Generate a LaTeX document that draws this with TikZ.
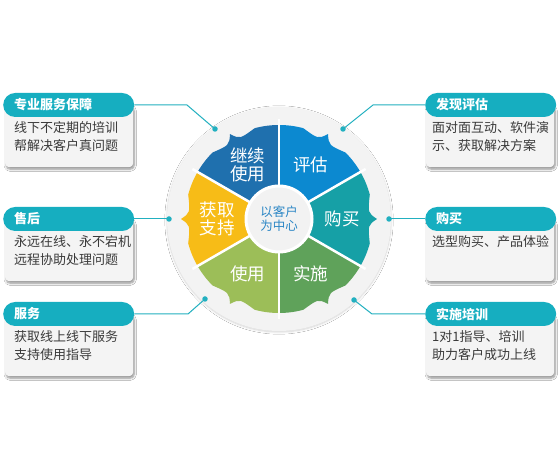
\documentclass[tikz,border=0pt]{standalone}
\usepackage{fontspec}
\setmainfont{Noto Sans CJK SC}
\usetikzlibrary{calc, shadows.blur}
\definecolor{teal}{HTML}{16AEC0}
\definecolor{linkteal}{HTML}{22B0C0}
\definecolor{softgrey}{HTML}{F4F4F4}
\definecolor{ringgrey}{HTML}{F3F3F3}
\definecolor{bodytext}{HTML}{3A3A3A}
\definecolor{hubblue}{HTML}{2B86C5}
\definecolor{segdarkblue}{HTML}{1F70AE}
\definecolor{segblue}{HTML}{0C89D0}
\definecolor{segteal}{HTML}{16A0A6}
\definecolor{seggreen}{HTML}{5FA25A}
\definecolor{seglime}{HTML}{9CBE58}
\definecolor{segyellow}{HTML}{F7BC17}
\tikzset{
  header/.style={
    rectangle, rounded corners=12pt, fill=teal,
    minimum width=131pt, minimum height=24pt,
    text=white, font=\bfseries\fontsize{13}{15}\selectfont,
    anchor=west, inner xsep=11pt, text width=109pt, align=left
  },
  bodybox/.style={
    rectangle, rounded corners=4pt, fill=softgrey,
    minimum width=128pt, minimum height=62pt, anchor=north west,
    blur shadow={shadow xshift=1pt, shadow yshift=-2pt, shadow blur steps=6, shadow opacity=45}
  },
  bodytext/.style={
    anchor=north west, align=left, text=bodytext, inner sep=0pt,
    font=\fontsize{13}{18}\selectfont
  },
  seglabel/.style={text=white, align=center, font=\fontsize{17.5}{18}\selectfont},
  link/.style={draw=linkteal, line width=1pt},
  dot/.style={circle, fill=linkteal, inner sep=0pt, minimum size=5.5pt},
}
% one coloured wedge of the ring: colour, start angle
\newcommand{\ringseg}[2]{%
  \pgfmathsetmacro{\segmid}{#2+30}%
  \pgfmathsetmacro{\sega}{\segmid-15}%
  \pgfmathsetmacro{\segb}{\segmid-4}%
  \pgfmathsetmacro{\segc}{\segmid+4}%
  \pgfmathsetmacro{\segd}{\segmid+15}%
  \pgfmathsetmacro{\sege}{#2+60}%
  \fill[#1] (C) -- ($(C)+(#2:94)$) arc[start angle=#2, end angle=\sega, radius=94]
    .. controls ($(C)+(\segb:89)$) .. ($(C)+(\segmid:98)$)
    .. controls ($(C)+(\segc:89)$) .. ($(C)+(\segd:94)$)
    arc[start angle=\segd, end angle=\sege, radius=94] -- cycle;
}

\begin{document}
\begin{tikzpicture}[x=1pt, y=1pt]
  \useasboundingbox[fill=white] (0,0) rectangle (560,473);
  \coordinate (C) at (279,254);

  % ring
  \fill[ringgrey, blur shadow={shadow xshift=0pt, shadow yshift=-1pt, shadow blur steps=8, shadow opacity=18}]
    (C) circle[radius=112];
  \ringseg{segteal}{-30}
  \ringseg{segblue}{30}
  \ringseg{segdarkblue}{90}
  \ringseg{segyellow}{150}
  \ringseg{seglime}{210}
  \ringseg{seggreen}{270}
  \foreach \a in {30,90,150,210,270,330}
    \draw[white, line width=2.5pt] (C) -- ($(C)+(\a:100)$);
  \node[circle, fill=white!95!black, draw=white, line width=3pt, minimum size=66pt,
        text=hubblue, align=center, font=\fontsize{12.5}{14}\selectfont] (hub) at (C)
    {以客户\\为中心};

  \node[seglabel] (pinggu) at ($(C)+(60:63)$) {评估};
  \node[seglabel] (goumai) at ($(C)+(0:63)$) {购买};
  \node[seglabel] (shishi) at ($(C)+(300:63)$) {实施};
  \node[seglabel] (shiyong) at ($(C)+(240:63)$) {使用};
  \node[seglabel] (zhichi) at ($(C)+(180:62)$) {获取\\支持};
  \node[seglabel] (jixu) at ($(C)+(120:63)$) {继续\\使用};

  % left boxes
  \node[bodybox] (bodyL1) at (5,368) {};
  \node[header] (hdL1) at (3,368) {专业服务保障};
  \node[bodytext] (txtL1) at (14,352) {线下不定期的培训\\帮解决客户真问题};

  \node[bodybox] (bodyL2) at (5,254) {};
  \node[header] (hdL2) at (3,254) {售后};
  \node[bodytext] (txtL2) at (14,238) {永远在线、永不宕机\\远程协助处理问题};

  \node[bodybox] (bodyL3) at (5,159) {};
  \node[header] (hdL3) at (3,159) {服务};
  \node[bodytext] (txtL3) at (14,143) {获取线上线下服务\\支持使用指导};

  % right boxes
  \node[bodybox] (bodyR1) at (426,368) {};
  \node[header] (hdR1) at (425,368) {发现评估};
  \node[bodytext] (txtR1) at (432,352) {面对面互动、软件演\\示、获取解决方案};

  \node[bodybox] (bodyR2) at (426,254) {};
  \node[header] (hdR2) at (425,254) {购买};
  \node[bodytext] (txtR2) at (432,238) {选型购买、产品体验};

  \node[bodybox] (bodyR3) at (426,159) {};
  \node[header] (hdR3) at (425,159) {实施培训};
  \node[bodytext] (txtR3) at (432,143) {1对1指导、培训\\助力客户成功上线};

  % connectors
  \node[dot] (dotL1) at (215,344) {};
  \node[dot] (dotR1) at (343,344) {};
  \node[dot] (dotL2) at (169,254) {};
  \node[dot] (dotR2) at (389,254) {};
  \node[dot] (dotL3) at (205,174) {};
  \node[dot] (dotR3) at (354,173) {};
  \coordinate (bendL1) at (187,368);
  \coordinate (bendR1) at (373,368);
  \coordinate (bendL3) at (188,159);
  \coordinate (bendR3) at (372,159);

  \draw[link] (hdL1.east) -- (bendL1) -- (dotL1.center);
  \draw[link] (hdR1.west) -- (bendR1) -- (dotR1.center);
  \draw[link] (hdL2.east) -- (dotL2.center);
  \draw[link] (hdR2.west) -- (dotR2.center);
  \draw[link] (hdL3.east) -- (bendL3) -- (dotL3.center);
  \draw[link] (hdR3.west) -- (bendR3) -- (dotR3.center);
\end{tikzpicture}
\end{document}
